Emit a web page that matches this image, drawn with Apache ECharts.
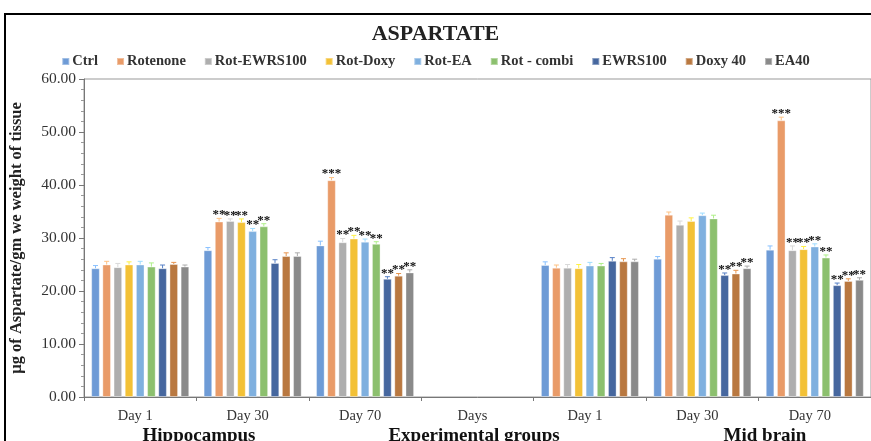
<!DOCTYPE html>
<html><head><meta charset="utf-8">
<script src="https://cdn.jsdelivr.net/npm/echarts@6/dist/echarts.min.js"></script>
<style>html,body{margin:0;padding:0;background:#fff}#c{width:871px;height:441px}</style>
</head><body><div id="c"></div>
<script>
const categories = ["Day 1","Day 30","Day 70","Days","Day 1","Day 30","Day 70"];
const seriesNames = ["Ctrl","Rotenone","Rot-EWRS100","Rot-Doxy","Rot-EA","Rot - combi","EWRS100","Doxy 40","EA40"];
const colors = ["#6E9BD6","#E99B68","#AEAEAE","#F3C136","#7FB0DF","#8CC06E","#46679F","#B97840","#8A8A8A"];
const yTicks = [0,10,20,30,40,50,60];
const groupLabels = ["Hippocampus","Experimental groups","Mid brain"];

const ctrl      = [24.3, 27.7, 28.6, null, 24.9, 26.1, 27.8];
const rotenone  = [25.0, 33.1, 40.9, null, 24.4, 34.4, 52.2];
const rotEwrs   = [24.5, 33.2, 29.2, null, 24.4, 32.5, 27.7];
const rotDoxy   = [25.0, 33.0, 29.9, null, 24.3, 33.2, 27.9];
const rotEa     = [25.0, 31.3, 29.3, null, 24.8, 34.3, 28.4];
const rotCombi  = [24.6, 32.2, 28.9, null, 24.8, 33.7, 26.3];
const ewrs100   = [24.3, 25.3, 22.3, null, 25.7, 23.0, 21.1];
const doxy40    = [25.1, 26.6, 22.9, null, 25.6, 23.3, 21.9];
const ea40      = [24.6, 26.6, 23.5, null, 25.6, 24.3, 22.1];

const ctrlErr     = [0.5, 0.5, 0.8, null, 0.6, 0.4, 0.7];
const rotenoneErr = [0.6, 0.6, 0.5, null, 0.5, 0.5, 0.6];
const rotEwrsErr  = [0.7, 0.4, 0.7, null, 0.6, 0.7, 0.8];
const rotDoxyErr  = [0.5, 0.6, 0.6, null, 0.7, 0.6, 0.5];
const rotEaErr    = [0.6, 0.5, 0.5, null, 0.6, 0.4, 0.5];
const rotCombiErr = [0.7, 0.5, 0.4, null, 0.4, 0.6, 0.5];
const ewrs100Err  = [0.6, 0.6, 0.4, null, 0.6, 0.4, 0.4];
const doxy40Err   = [0.3, 0.6, 0.4, null, 0.5, 0.6, 0.4];
const ea40Err     = [0.3, 0.6, 0.5, null, 0.4, 0.4, 0.4];

const ctrlStars     = ["","","","","","",""];
const rotenoneStars = ["","**","***","","","","***"];
const rotEwrsStars  = ["","**","**","","","","**"];
const rotDoxyStars  = ["","**","**","","","","**"];
const rotEaStars    = ["","**","**","","","","**"];
const rotCombiStars = ["","**","**","","","","**"];
const ewrs100Stars  = ["","","**","","","**","**"];
const doxy40Stars   = ["","","**","","","**","**"];
const ea40Stars     = ["","","**","","","**","**"];

const values = [ctrl, rotenone, rotEwrs, rotDoxy, rotEa, rotCombi, ewrs100, doxy40, ea40];
const errors = [ctrlErr, rotenoneErr, rotEwrsErr, rotDoxyErr, rotEaErr, rotCombiErr, ewrs100Err, doxy40Err, ea40Err];
const stars  = [ctrlStars, rotenoneStars, rotEwrsStars, rotDoxyStars, rotEaStars, rotCombiStars, ewrs100Stars, doxy40Stars, ea40Stars];

const serif = "Liberation Serif";
const BAR_W = 8.6, GAP = 0.3, N = seriesNames.length;
const pitch = BAR_W * (1 + GAP);

const series = [];
seriesNames.forEach((name, i) => {
  series.push({
    name, type: 'bar',
    barWidth: BAR_W, barGap: (GAP*100) + '%',
    itemStyle: { color: colors[i], borderColor: 'rgba(255,255,255,0.35)', borderWidth: 1 },
    data: values[i]
  });
});
seriesNames.forEach((name, i) => {
  series.push({
    type: 'custom', z: 5, silent: true,
    data: values[i].map((v, k) => v == null ? [k, '-', 0] : [k, v, errors[i][k]]),
    encode: { x: 0, y: 1 },
    renderItem: function (params, api) {
      const v = api.value(1);
      if (isNaN(v)) return null;
      const k = api.value(0), e = api.value(2);
      const s = stars[i][k];
      const base = api.coord([k, v]);
      const top = api.coord([k, v + e]);
      const x = base[0] + (i - (N - 1) / 2) * pitch;
      const col = echarts.color.lift(colors[i], -0.25);
      const children = [
        { type: 'line', shape: { x1: x, y1: base[1], x2: x, y2: top[1] }, style: { stroke: col, lineWidth: 1 } },
        { type: 'line', shape: { x1: x - 2.5, y1: top[1], x2: x + 2.5, y2: top[1] }, style: { stroke: col, lineWidth: 1 } }
      ];
      if (s) {
        children.push({ type: 'text', style: { text: s, x: x, y: top[1] + 3, align: 'center', verticalAlign: 'bottom',
          fill: '#111', font: 'bold 13px ' + serif } });
      }
      return { type: 'group', children };
    }
  });
});

const chart = echarts.init(document.getElementById('c'));
chart.setOption({
  animation: false,
  backgroundColor: '#fff',
  title: { text: 'ASPARTATE', left: 'center', top: 18,
    textStyle: { fontFamily: serif, fontWeight: 'bold', fontSize: 22, color: '#222' } },
  legend: { data: seriesNames, top: 49, left: 'center', icon: 'rect', itemWidth: 7, itemHeight: 7, itemGap: 18,
    textStyle: { fontFamily: serif, fontWeight: 'bold', fontSize: 14.5, color: '#333', padding: [0,0,0,-2] } },
  grid: { left: 81, top: 79, width: 793, bottom: 44, show: true, borderColor: '#999', borderWidth: 1 },
  xAxis: { type: 'category', data: categories,
      axisLine: { lineStyle: { color: '#777' } },
      axisTick: { show: true, length: 4, lineStyle: { color: '#777' } },
      axisLabel: { fontFamily: serif, fontSize: 14.5, color: '#333', margin: 12, padding: [0, 10, 0, 0] } },
  yAxis: { type: 'value', min: 0, max: 60, interval: 10,
      name: 'µg of Aspartate/gm we weight of tissue', nameLocation: 'middle', nameGap: 59,
      nameTextStyle: { fontFamily: serif, fontWeight: 'bold', fontSize: 16.5, color: '#222' },
      axisLine: { show: true, lineStyle: { color: '#777' } },
      axisTick: { show: true, length: 5, lineStyle: { color: '#777' } },
      minorTick: { show: true, splitNumber: 5, length: 3, lineStyle: { color: '#999' } },
      splitLine: { show: false },
      axisLabel: { fontFamily: serif, fontSize: 15.5, color: '#333', margin: 8,
        formatter: v => yTicks.includes(v) ? v.toFixed(2) : '' } },
  graphic: [
    { type: 'rect', shape: { x: 5, y: 14, width: 900, height: 460 }, style: { fill: 'none', stroke: '#000', lineWidth: 2 }, z: 100 },
    { type: 'text', x: 199, y: 427, style: { text: groupLabels[0], align: 'center', verticalAlign: 'top', font: 'bold 19px ' + serif, fill: '#111' } },
    { type: 'text', x: 474, y: 427, style: { text: groupLabels[1], align: 'center', verticalAlign: 'top', font: 'bold 19px ' + serif, fill: '#111' } },
    { type: 'text', x: 765, y: 427, style: { text: groupLabels[2], align: 'center', verticalAlign: 'top', font: 'bold 19px ' + serif, fill: '#111' } }
  ],
  series
});
</script></body></html>
